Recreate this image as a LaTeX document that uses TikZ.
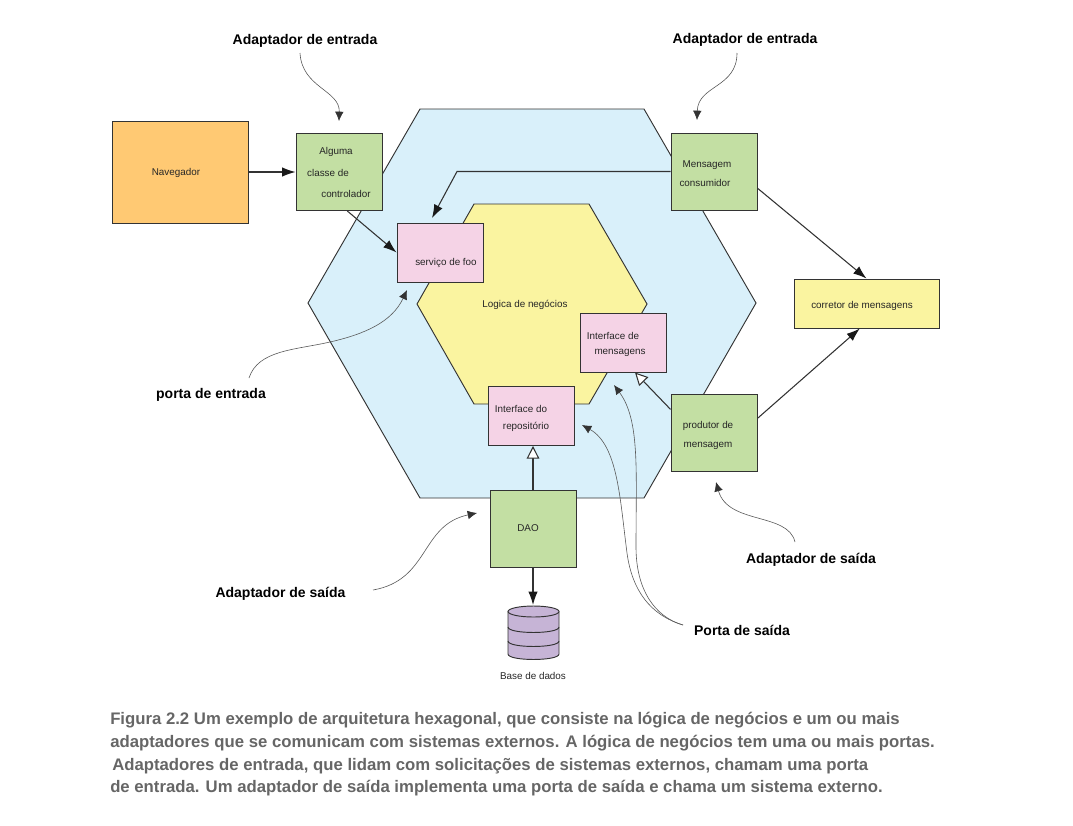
\documentclass[tikz,border=0pt]{standalone}
\usepackage{fontspec}
\setmainfont{Liberation Sans}
\usepackage{xcolor}
\usetikzlibrary{arrows.meta}

\definecolor{hexouter}{HTML}{D9F0FA}
\definecolor{hexinner}{HTML}{FAF4A0}
\definecolor{adapter}{HTML}{C3DFA3}
\definecolor{port}{HTML}{F5D3E6}
\definecolor{browser}{HTML}{FFC973}
\definecolor{store}{HTML}{C6B4D6}
\definecolor{edge}{HTML}{333333}
\definecolor{capgray}{HTML}{666666}

\tikzset{
  box/.style={draw=edge, line width=0.7pt, inner sep=0},
  adapterbox/.style={box, fill=adapter, minimum width=64.5pt, minimum height=57.75pt},
  portbox/.style={box, fill=port, minimum width=64.5pt, minimum height=44.25pt},
  small/.style={font=\fontsize{7.4}{9}\selectfont, inner sep=0, text=black!85},
  callout/.style={font=\fontsize{10.5}{12}\bfseries\selectfont, inner sep=0},
  captionline/.style={font=\fontsize{12.55}{14}\bfseries\selectfont, text=capgray, inner sep=0, anchor=west},
  flow/.style={draw=edge, line width=0.8pt, -{Latex[length=10pt,width=7pt,color=black!90]}},
  impl/.style={draw=edge, line width=0.8pt, -{Triangle[open,length=9.5pt,width=9.5pt,fill=white]}},
  note/.style={draw=black!65, line width=0.45pt, -{Latex[length=7pt,width=6.5pt,color=edge]}}
}

\begin{document}
\begin{tikzpicture}[x=0.75pt, y=-0.75pt]
  \useasboundingbox (0,0) rectangle (1073,825);

  % hexagons
  \draw[fill=hexouter, draw=edge, line width=0.7pt] (420,109) -- (644,109) -- (756,303) -- (644,498) -- (420,498) -- (308,303) -- cycle;
  \draw[fill=hexinner, draw=edge, line width=0.7pt] (474,204) -- (589,204) -- (647,304) -- (589,404) -- (474,404) -- (417,304) -- cycle;

  % boxes
  \node[box, fill=browser, minimum width=102pt, minimum height=76.5pt] (nav) at (180,172) {};
  \node[adapterbox] (ctrl) at (339,172) {};
  \node[adapterbox] (consumer) at (714,171.5) {};
  \node[adapterbox] (producer) at (714,432.5) {};
  \node[adapterbox] (dao) at (533,528.5) {};
  \node[portbox] (foo) at (440,252.5) {};
  \node[portbox] (msgport) at (623.5,342.5) {};
  \node[portbox] (repo) at (531.5,416) {};
  \node[box, fill=hexinner, minimum width=108.75pt, minimum height=36.75pt] (broker) at (866.5,303.5) {};

  % database
  \coordinate (db) at (533.5,605);
  \draw[fill=store, draw=edge, line width=0.7pt] (508,611.5) -- (508,654) .. controls (508,661.3) and (559,661.3) .. (559,654) -- (559,611.5);
  \draw[fill=store, draw=edge, line width=0.7pt] (533.5,611.5) ellipse [x radius=25.5, y radius=5.5];
  \draw[draw=edge, line width=0.7pt] (508,627) .. controls (508,634.3) and (559,634.3) .. (559,627);
  \draw[draw=edge, line width=0.7pt] (508,641) .. controls (508,648.3) and (559,648.3) .. (559,641);

  % box texts
  \node[small] (navtext) at (176,173) {Navegador};
  \node[small] (ctrltexta) at (336,152) {Alguma};
  \node[small] (ctrltextb) at (328,173) {classe de};
  \node[small] (ctrltextc) at (346,194) {controlador};
  \node[small] (footext) at (446,263) {serviço de foo};
  \node[small] (logic) at (525,305) {Logica de negócios};
  \node[small] (msgporta) at (613,336) {Interface de};
  \node[small] (msgportb) at (620,353) {mensagens};
  \node[small] (repoa) at (521,409) {Interface do};
  \node[small] (repob) at (526,427) {repositório};
  \node[small] (consumera) at (707,165) {Mensagem};
  \node[small] (consumerb) at (705,183) {consumidor};
  \node[small] (producera) at (708,426) {produtor de};
  \node[small] (producerb) at (708,446) {mensagem};
  \node[small] (daotext) at (528,528) {DAO};
  \node[small] (brokertext) at (862,306) {corretor de mensagens};
  \node[small] (dbtext) at (533,676) {Base de dados};

  % callouts
  \node[callout] (inada) at (305,41) {Adaptador de entrada};
  \node[callout] (inadb) at (745,40) {Adaptador de entrada};
  \node[callout] (inport) at (211,394.5) {porta de entrada};
  \node[callout] (outada) at (280.5,594) {Adaptador de saída};
  \node[callout] (outadb) at (811,560) {Adaptador de saída};
  \node[callout] (outport) at (742,630) {Porta de saída};

  % free ends
  \coordinate (inadaend) at (339,121);
  \coordinate (inadbend) at (697,120);
  \coordinate (inportend) at (407,290);
  \coordinate (outadaend) at (477,513);
  \coordinate (outadbend) at (716,482);
  \coordinate (outporta) at (582,425);
  \coordinate (outportb) at (614,385);
  \coordinate (bend) at (457,171.5);
  \coordinate (fooin) at (432,218);

  % connectors
  \draw[flow] (nav.east) -- (ctrl.west);
  \draw[flow] (ctrl.-78) -- (foo.west);
  \draw[flow] (consumer.west) -- (bend) -- (fooin);
  \draw[flow] (consumer.-21) -- (broker.north);
  \draw[flow] (producer.18) -- (broker.-105);
  \draw[impl] (producer.152) -- (msgport.-69);
  \draw[impl] (dao.north) -- (dao.north |- repo.south);
  \draw[flow] (dao.south) -- (dao.south |- db);

  % notes
  \draw[note] (300,53) .. controls (302,88) and (340,90) .. (inadaend);
  \draw[note] (737,53) .. controls (737,88) and (698,85) .. (inadbend);
  \draw[note] (249,378) .. controls (258,350) and (295,350) .. (330,342) .. controls (365,334) and (392,322) .. (inportend);
  \draw[note] (373,590) .. controls (430,580) and (420,525) .. (outadaend);
  \draw[note] (795,542) .. controls (788,512) and (728,525) .. (outadbend);
  \draw[note] (683,625) .. controls (650,615) and (632,590) .. (627,553) .. controls (620,500) and (618,445) .. (outporta);
  \draw[note] (683,625) .. controls (655,617) and (636,590) .. (636,547) .. controls (636,470) and (640,420) .. (outportb);

  % caption
  \node[captionline] (capa) at (110,720) {Figura 2.2 Um exemplo de arquitetura hexagonal, que consiste na lógica de negócios e um ou mais};
  \node[captionline] (capb) at (110,743) {adaptadores que se comunicam com sistemas externos. A lógica de negócios tem uma ou mais portas.};
  \node[captionline] (capc) at (112,766) {Adaptadores de entrada, que lidam com solicitações de sistemas externos, chamam uma porta};
  \node[captionline] (capd) at (110,788) {de entrada. Um adaptador de saída implementa uma porta de saída e chama um sistema externo.};
\end{tikzpicture}
\end{document}
